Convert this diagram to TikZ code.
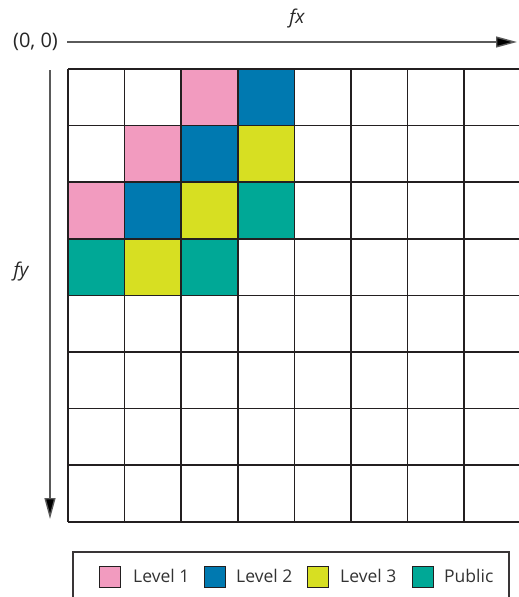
\documentclass[tikz,border=0pt]{standalone}
\usepackage{fontspec}
\setmainfont{Open Sans}
\usetikzlibrary{arrows.meta}
\definecolor{lvlone}{RGB}{242,155,191}
\definecolor{lvltwo}{RGB}{0,121,176}
\definecolor{lvlthree}{RGB}{215,223,34}
\definecolor{lvlpub}{RGB}{0,168,150}
\definecolor{gridc}{RGB}{35,31,32}
\definecolor{axisc}{RGB}{90,90,90}
\tikzset{
  gridline/.style={draw=gridc, line width=1.7pt},
  axisline/.style={draw=axisc, line width=1.4pt, -{Triangle[length=21pt,width=11pt,fill=black]}},
  lab/.style={font=\fontsize{20}{22}\selectfont, inner sep=0pt, text=black!85},
  axlab/.style={font=\fontsize{19}{21}\selectfont\itshape, inner sep=0pt, text=black!85},
  legsq/.style={draw=gridc, line width=0.9pt, fill=#1, minimum size=21pt, inner sep=0pt},
  legtext/.style={font=\fontsize{17.5}{19}\selectfont, inner sep=0pt, anchor=west, text=black!80},
}
\begin{document}
\begin{tikzpicture}[x=1pt,y=-1pt]
\useasboundingbox (0,0) rectangle (519,597);
\def\cs{56.6}
% coloured cells: row, column, colour
\foreach \r/\c/\col in {0/2/lvlone,0/3/lvltwo,
                        1/1/lvlone,1/2/lvltwo,1/3/lvlthree,
                        2/0/lvlone,2/1/lvltwo,2/2/lvlthree,2/3/lvlpub,
                        3/0/lvlpub,3/1/lvlthree,3/2/lvlpub}{
  \fill[\col] ({68+\c*\cs},{69+\r*\cs}) rectangle ++(\cs,\cs);
}
% grid
\foreach \i in {0,...,8}{
  \draw[gridline] ({68+\i*\cs},69) -- ({68+\i*\cs},{69+8*\cs});
  \draw[gridline] (68,{69+\i*\cs}) -- ({68+8*\cs},{69+\i*\cs});
}
% axes
\coordinate (xs) at (67,42);
\coordinate (xe) at (517,42);
\coordinate (ys) at (50,70);
\coordinate (ye) at (50,519);
\draw[axisline] (xs) -- (xe);
\draw[axisline] (ys) -- (ye);
\node[lab] (origin) at (35.5,42) {(0, 0)};
\node[axlab] (fx) at (297,19) {fx};
\node[axlab] (fy) at (21,272) {fy};
% legend
\draw[draw=gridc!90, line width=1.5pt] (73,552) rectangle (509,620);
\node[legsq=lvlone]   (s1) at (110,576.5) {};
\node[legsq=lvltwo]   (s2) at (214.5,576.5) {};
\node[legsq=lvlthree] (s3) at (318,576.5) {};
\node[legsq=lvlpub]   (s4) at (422.5,576.5) {};
\node[legtext] (t1) at (133,576) {Level 1};
\node[legtext] (t2) at (236,576) {Level 2};
\node[legtext] (t3) at (340,576) {Level 3};
\node[legtext] (t4) at (444,576) {Public};
\end{tikzpicture}
\end{document}
